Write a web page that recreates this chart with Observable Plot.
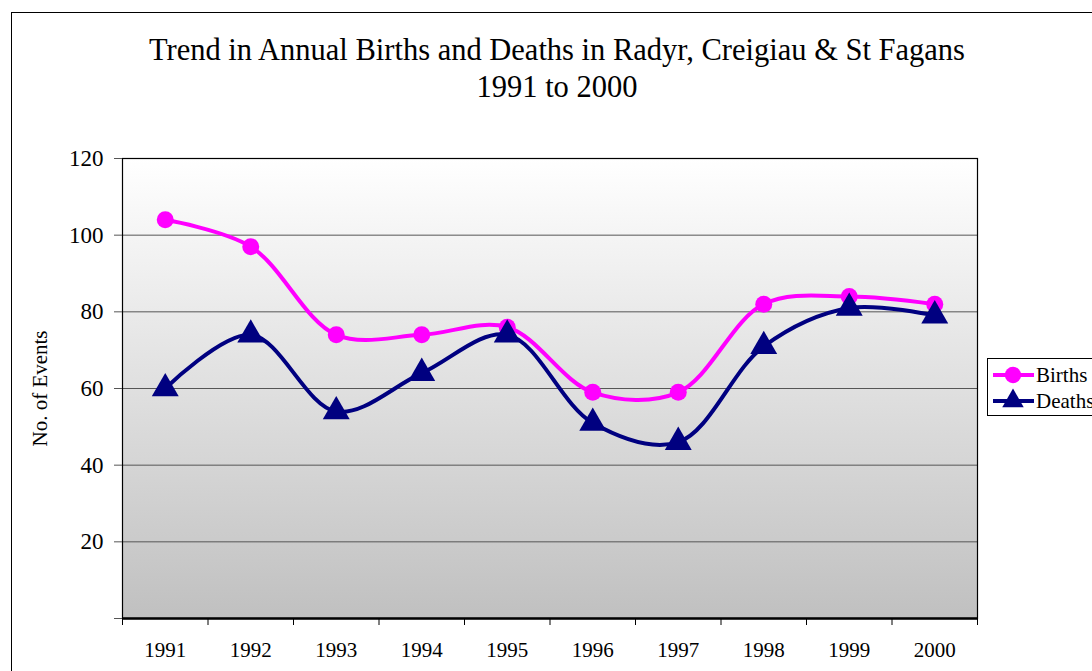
<!DOCTYPE html>
<html>
<head>
<meta charset="utf-8">
<script src="https://cdn.jsdelivr.net/npm/d3@7"></script>
<script src="https://cdn.jsdelivr.net/npm/@observablehq/plot@0.6"></script>
<style>
  html, body { margin: 0; padding: 0; background: #fff; }
  #wrap { position: relative; width: 1092px; height: 671px; overflow: hidden; font-family: "Liberation Serif", "Times New Roman", serif; }
  #border { position: absolute; left: 11px; top: 12px; width: 1200px; height: 800px; border: 1.5px solid #000; box-sizing: border-box; }
  #title { position: absolute; left: 0; width: 1114px; top: 32px; text-align: center; font-size: 30.5px; line-height: 37px; color: #000; }
  #legend { position: absolute; left: 987px; top: 358px; width: 200px; height: 58px; border: 1px solid #000; box-sizing: border-box; background: #fff; }
  #chart { position: absolute; left: 0; top: 0; }
</style>
</head>
<body>
<div id="wrap">
  <div id="border"></div>
  <div id="title">Trend in Annual Births and Deaths in Radyr, Creigiau &amp; St Fagans<br>1991 to 2000</div>
  <div id="chart"></div>
  <div id="legend"></div>
</div>
<script>
const years = [1991, 1992, 1993, 1994, 1995, 1996, 1997, 1998, 1999, 2000];
const births = [104, 97, 74, 74, 76, 59, 59, 82, 84, 82];
const deaths = [60, 74, 54, 64, 74, 51, 46, 71, 81, 79];
const yTicks = [0, 20, 40, 60, 80, 100, 120];
const gridValues = [20, 40, 60, 80, 100];
const seriesNames = ["Births", "Deaths"];
const seriesColors = ["#FF00FF", "#000080"];

const birthRows = years.map((y, i) => ({year: y, value: births[i]}));
const deathRows = years.map((y, i) => ({year: y, value: deaths[i]}));
const boundaries = [years[0] - 0.5, ...years.map(y => y + 0.5)];

const defs = () => {
  const g = d3.create("svg:defs");
  const lg = g.append("linearGradient").attr("id", "bgGrad").attr("x1", 0).attr("y1", 0).attr("x2", 0).attr("y2", 1);
  lg.append("stop").attr("offset", "0%").attr("stop-color", "#ffffff");
  lg.append("stop").attr("offset", "100%").attr("stop-color", "#c0c0c0");
  return g.node();
};

const font = "'Liberation Serif', 'Times New Roman', serif";

const chart = Plot.plot({
  width: 1092,
  height: 671,
  marginLeft: 122,
  marginRight: 115,
  marginTop: 158,
  marginBottom: 53,
  style: {fontFamily: font, fontSize: "21px", background: "transparent", color: "#000", overflow: "visible"},
  x: {domain: [boundaries[0], boundaries[boundaries.length - 1]]},
  y: {domain: [0, 120]},
  marks: [
    defs,
    Plot.frame({fill: "url(#bgGrad)", stroke: null}),
    Plot.ruleY(gridValues, {stroke: "#555", strokeWidth: 1}),
    Plot.frame({stroke: "#000", strokeWidth: 1.2}),
    Plot.ruleY([0], {stroke: "#000", strokeWidth: 2.5}),
    Plot.axisY({ticks: yTicks, tickSize: 8, tickPadding: 11, tickFormat: d => d === 0 ? "" : d,
      fontSize: 23, stroke: "#555", label: null}),
    Plot.axisY({ticks: [], tickSize: 0, fontSize: 21,
      label: "No. of Events", labelAnchor: "center", labelArrow: "none", labelOffset: 90}),
    Plot.axisX({ticks: boundaries, tickSize: 7, tickFormat: () => "", stroke: "#000", label: null}),
    Plot.axisX({ticks: years, tickSize: 0, tickPadding: 24, tickFormat: d => String(d), fontSize: 21, label: null}),
    Plot.line(birthRows, {x: "year", y: "value", stroke: seriesColors[0], strokeWidth: 4, curve: "catmull-rom"}),
    Plot.dot(birthRows, {x: "year", y: "value", fill: seriesColors[0], r: 8.5, symbol: "circle"}),
    Plot.line(deathRows, {x: "year", y: "value", stroke: seriesColors[1], strokeWidth: 4, curve: "catmull-rom"}),
    Plot.dot(deathRows, {x: "year", y: "value", fill: seriesColors[1], r: 10, symbol: "triangle"})
  ]
});
document.getElementById("chart").appendChild(chart);

// legend
const leg = d3.select("#legend").append("svg").attr("width", 200).attr("height", 58);
const sym = [d3.symbolCircle, d3.symbolTriangle];
const symSize = [210, 200];
seriesNames.forEach((name, i) => {
  const cy = 16 + i * 26;
  leg.append("line").attr("x1", 5).attr("x2", 46).attr("y1", cy).attr("y2", cy)
    .attr("stroke", seriesColors[i]).attr("stroke-width", 4);
  leg.append("path").attr("d", d3.symbol(sym[i], symSize[i])()).attr("transform", `translate(25,${cy})`)
    .attr("fill", seriesColors[i]);
  leg.append("text").attr("x", 48).attr("y", cy + 7).text(name)
    .attr("font-family", font).attr("font-size", 21).attr("fill", "#000");
});
</script>
</body>
</html>
